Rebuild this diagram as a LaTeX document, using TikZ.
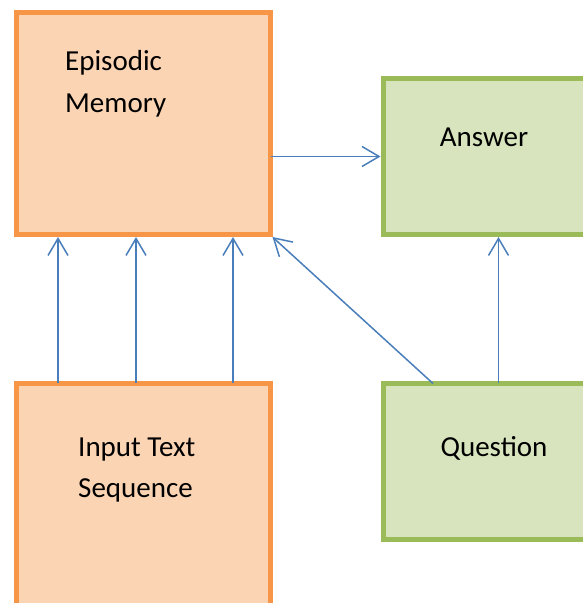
\documentclass[tikz,border=0pt]{standalone}
\usepackage{fontspec}
\setmainfont{Carlito}
\usetikzlibrary{arrows.meta,positioning}
\definecolor{boxorange}{HTML}{F79646}
\definecolor{fillorange}{HTML}{FBD4B4}
\definecolor{boxgreen}{HTML}{9BBB59}
\definecolor{fillgreen}{HTML}{D7E4BD}
\definecolor{linkblue}{HTML}{4A7EBB}

\begin{document}
\begin{tikzpicture}[x=1pt,y=1pt]
\tikzstyle{orangebox} = [
	draw=boxorange,
	fill=fillorange,
	line width=5pt, %thick office border
	minimum width=254pt,
	inner sep=0pt,
	outer sep=0pt
];
\tikzstyle{greenbox} = [
	draw=boxgreen,
	fill=fillgreen,
	line width=5pt,
	minimum width=220pt,
	minimum height=156pt,
	inner sep=0pt,
	outer sep=0pt
];
\tikzstyle{boxtext} = [
	inner sep=0pt,
	font=\fontsize{29}{42}\selectfont
];
\tikzstyle{link} = [
	draw=linkblue,
	line width=1.5pt,
	-{Straight Barb[length=17pt,width=20pt]}
];

\useasboundingbox (0,0) rectangle (583,603);
\clip (0,0) rectangle (583,603);

\begin{scope}
	\node[orangebox,minimum height=222pt](mem) at (143.5, 479.5) {};
	\node[greenbox](answer) at (493.5, 446.5) {};
	\node[orangebox,minimum height=240pt](input) at (143.5, 99.5) {};
	\node[greenbox](question) at (493.5, 141.5) {};
\end{scope}

\node[boxtext,anchor=base west](memtop) at (65, 532) {Episodic};
\node[boxtext,anchor=base west](membot) at (65, 490) {Memory};
\node[boxtext,anchor=base](anstxt) at (484, 456) {Answer};
\node[boxtext,anchor=base west](inputtop) at (78, 146) {Input Text};
\node[boxtext,anchor=base west](inputbot) at (78, 105) {Sequence};
\node[boxtext,anchor=base](questxt) at (494, 146) {Question};

% input sequence feeds the memory
\draw[link] ([xshift=41.5pt]input.north west) -- ([xshift=41.5pt,yshift=-2.5pt]mem.south west);
\draw[link] ([xshift=119.5pt]input.north west) -- ([xshift=119.5pt,yshift=-2.5pt]mem.south west);
\draw[link] ([xshift=216.5pt]input.north west) -- ([xshift=216.5pt,yshift=-2.5pt]mem.south west);

\draw[link] (mem.east |- answer.west) -- ([xshift=-3pt]answer.west);
\draw[link] ([xshift=49.5pt]question.north west) -- ([xshift=2pt,yshift=-2.5pt]mem.south east);
\draw[link] ([xshift=115pt]question.north west) -- ([xshift=115pt,yshift=-2.5pt]answer.south west);

\end{tikzpicture}
\end{document}
